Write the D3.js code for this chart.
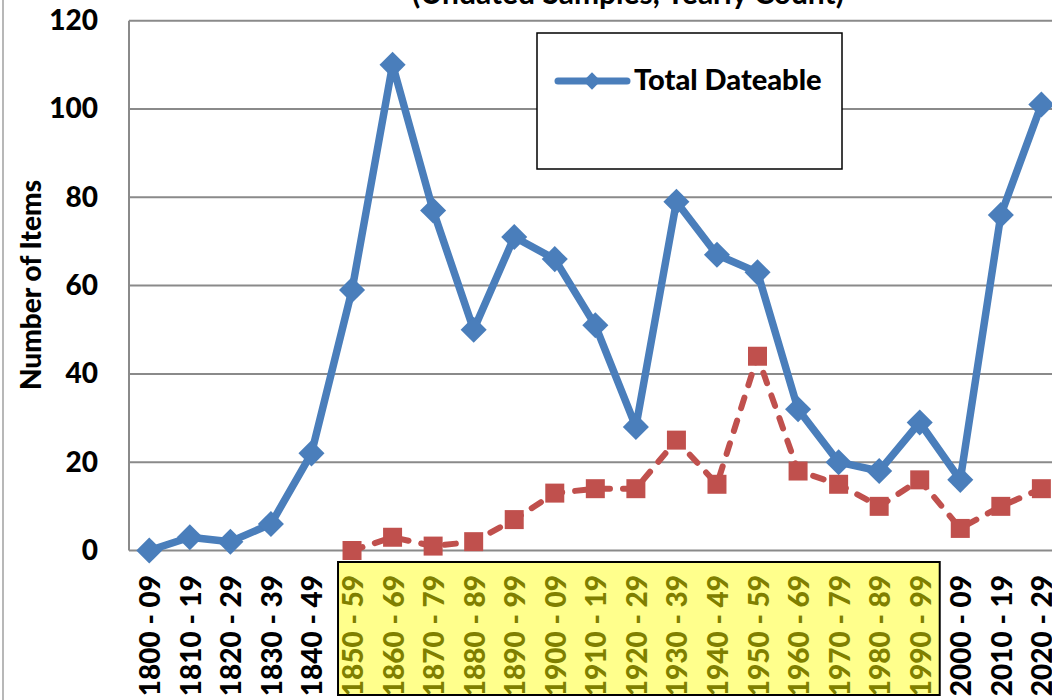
<!DOCTYPE html>
<html>
<head>
<meta charset="utf-8">
<script src="https://cdn.jsdelivr.net/npm/d3@7"></script>
<style>
  html, body { margin: 0; padding: 0; background: #fff; overflow: hidden; }
  svg { display: block; font-family: Lato, "Open Sans", sans-serif; }
</style>
</head>
<body>
<svg id="chart" width="1052" height="700"></svg>
<script>
// ---- data ----
const categories = ["1800 - 09","1810 - 19","1820 - 29","1830 - 39","1840 - 49","1850 - 59","1860 - 69","1870 - 79","1880 - 89","1890 - 99","1900 - 09","1910 - 19","1920 - 29","1930 - 39","1940 - 49","1950 - 59","1960 - 69","1970 - 79","1980 - 89","1990 - 99","2000 - 09","2010 - 19","2020 - 29"];
const totalDateable = [0,3,2,6,22,59,110,77,50,71,66,51,28,79,67,63,32,20,18,29,16,76,101];
const secondSeries = [null,null,null,null,null,0,3,1,2,7,13,14,14,25,15,44,18,15,10,16,5,10,14];
const yTicks = [0,20,40,60,80,100,120];
const highlighted = ["1850 - 59","1860 - 69","1870 - 79","1880 - 89","1890 - 99","1900 - 09","1910 - 19","1920 - 29","1930 - 39","1940 - 49","1950 - 59","1960 - 69","1970 - 79","1980 - 89","1990 - 99"];
const legendLabel = "Total Dateable";
const yTitle = "Number of Items";
const chartTitle = "(Undated Samples, Yearly Count)";

// ---- layout ----
const svg = d3.select("#chart");
const plot = { left: 129, top: 20.7, bottom: 550.5, band: 40.55 };
const x = d3.scaleBand().domain(categories)
  .range([plot.left, plot.left + plot.band * categories.length]).padding(0);
const xc = c => x(c) + x.bandwidth() / 2;
const y = d3.scaleLinear().domain([0, 120]).range([plot.bottom, plot.top]);

const BLUE = "#4A7EBB", RED = "#C0504D", GRID = "#8A8A8A";

// chart outer border (left edge visible)
svg.append("line").attr("x1", 3).attr("x2", 3).attr("y1", 0).attr("y2", 700)
  .attr("stroke", "#A0A0A0").attr("stroke-width", 1.5);

// title (clipped at top)
svg.append("text").attr("x", 628).attr("y", 4).attr("text-anchor", "middle")
  .attr("font-size", 30).attr("font-weight", "bold").attr("fill", "#000")
  .text(chartTitle);

// gridlines
svg.append("g").selectAll("line").data(yTicks.filter(t => t > 0)).join("line")
  .attr("x1", plot.left).attr("x2", 1052)
  .attr("y1", d => y(d)).attr("y2", d => y(d))
  .attr("stroke", GRID).attr("stroke-width", 2);

// axes lines
svg.append("line").attr("x1", plot.left).attr("x2", 1052)
  .attr("y1", y(0)).attr("y2", y(0)).attr("stroke", GRID).attr("stroke-width", 2);
svg.append("line").attr("x1", plot.left).attr("x2", plot.left)
  .attr("y1", y(120)).attr("y2", y(0)).attr("stroke", GRID).attr("stroke-width", 2);

// y axis labels
const yAxis = d3.axisLeft(y).tickValues(yTicks).tickSize(0).tickPadding(0);
const yg = svg.append("g").attr("transform", `translate(98,0)`).call(yAxis);
yg.select(".domain").remove();
yg.selectAll("text").attr("font-size", 28).attr("font-weight", "900")
  .attr("fill", "#000").attr("font-family", "Lato, sans-serif");

// y title
svg.append("text").attr("transform", `translate(30,285) rotate(-90)`)
  .attr("text-anchor", "middle").attr("dominant-baseline", "central")
  .attr("font-size", 28).attr("font-weight", "900").attr("fill", "#000")
  .text(yTitle);

// highlight box behind x labels
const hFirst = highlighted[0], hLast = highlighted[highlighted.length - 1];
svg.append("rect")
  .attr("x", xc(hFirst) - 14).attr("y", 562)
  .attr("width", (xc(hLast) + 20) - (xc(hFirst) - 14)).attr("height", 133)
  .attr("fill", "#FFFF8C").attr("stroke", "#000").attr("stroke-width", 2);

// x axis labels
const xAxis = d3.axisBottom(x).tickSize(0).tickPadding(0);
const xg = svg.append("g").attr("transform", `translate(0,575)`).call(xAxis);
xg.select(".domain").remove();
xg.selectAll("text")
  .attr("transform", "rotate(-90)")
  .attr("x", 0).attr("y", 0).attr("dy", null)
  .attr("text-anchor", "end").attr("dominant-baseline", "central")
  .attr("font-size", 28).attr("font-weight", "900").attr("font-family", "Lato, sans-serif")
  .attr("fill", d => highlighted.includes(d) ? "#7F7F00" : "#000");

// blue line
const lineGen = d3.line().defined(d => d.v !== null).x(d => xc(d.c)).y(d => y(d.v));
const blueData = categories.map((c, i) => ({ c, v: totalDateable[i] }));
const redData = categories.map((c, i) => ({ c, v: secondSeries[i] }));

svg.append("path").datum(blueData).attr("d", lineGen)
  .attr("fill", "none").attr("stroke", BLUE).attr("stroke-width", 7.5)
  .attr("stroke-linejoin", "round").attr("stroke-linecap", "round");
const diamond = d3.symbol(d3.symbolSquare, 340)();
svg.append("g").selectAll("path").data(blueData).join("path")
  .attr("d", diamond)
  .attr("transform", d => `translate(${xc(d.c)},${y(d.v)}) rotate(45)`)
  .attr("fill", BLUE);

// red dashed line
svg.append("path").datum(redData.filter(d => d.v !== null)).attr("d", lineGen)
  .attr("fill", "none").attr("stroke", RED).attr("stroke-width", 6)
  .attr("stroke-dasharray", "11,13").attr("stroke-linecap", "round");
const square = d3.symbol(d3.symbolSquare, 361)();
svg.append("g").selectAll("path").data(redData.filter(d => d.v !== null)).join("path")
  .attr("d", square)
  .attr("transform", d => `translate(${xc(d.c)},${y(d.v)})`)
  .attr("fill", RED);

// legend
const lg = svg.append("g");
lg.append("rect").attr("x", 537).attr("y", 33).attr("width", 305).attr("height", 136)
  .attr("fill", "#fff").attr("stroke", "#000").attr("stroke-width", 1.5);
lg.append("line").attr("x1", 558).attr("x2", 627).attr("y1", 81).attr("y2", 81)
  .attr("stroke", BLUE).attr("stroke-width", 7).attr("stroke-linecap", "round");
lg.append("path").attr("d", d3.symbol(d3.symbolSquare, 150)())
  .attr("transform", "translate(592,81) rotate(45)").attr("fill", BLUE);
lg.append("text").attr("x", 634).attr("y", 90)
  .attr("font-size", 29).attr("font-weight", "900").attr("fill", "#000")
  .text(legendLabel);
</script>
</body>
</html>
